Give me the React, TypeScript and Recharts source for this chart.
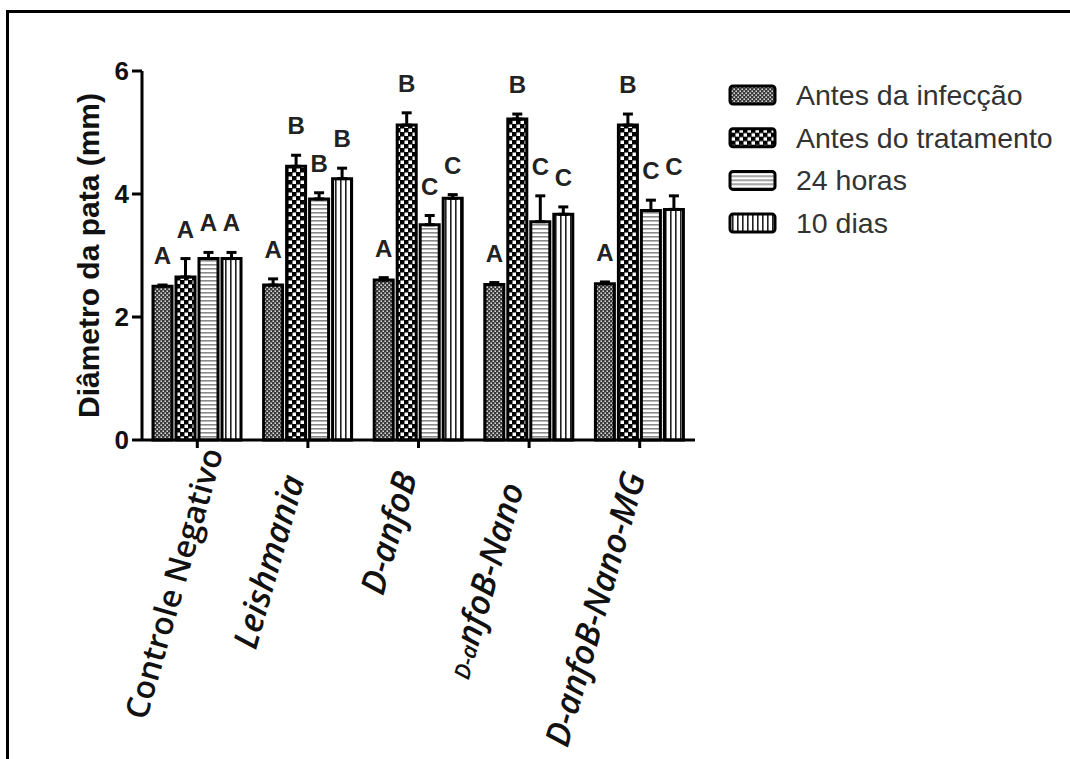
import React from 'react';
import { BarChart, Bar, XAxis, YAxis, ErrorBar, LabelList, Legend } from 'recharts';

const categories = ['Controle Negativo', 'Leishmania', 'D-anfoB', 'D-anfoB-Nano', 'D-anfoB-Nano-MG'];
const seriesNames = ['Antes da infecção', 'Antes do tratamento', '24 horas', '10 dias'];

const antesInfeccao = [2.5, 2.52, 2.6, 2.53, 2.54];
const antesInfeccaoErr = [0.02, 0.1, 0.04, 0.03, 0.03];
const antesTratamento = [2.65, 4.45, 5.12, 5.22, 5.12];
const antesTratamentoErr = [0.3, 0.18, 0.2, 0.08, 0.18];
const horas24 = [2.95, 3.92, 3.5, 3.55, 3.73];
const horas24Err = [0.1, 0.1, 0.15, 0.42, 0.17];
const dias10 = [2.95, 4.25, 3.93, 3.67, 3.75];
const dias10Err = [0.1, 0.17, 0.06, 0.12, 0.22];

const lettersInfeccao = ['A', 'A', 'A', 'A', 'A'];
const lettersTratamento = ['A', 'B', 'B', 'B', 'B'];
const letters24 = ['A', 'B', 'C', 'C', 'C'];
const letters10 = ['A', 'B', 'C', 'C', 'C'];

const yTicks = [0, 2, 4, 6];

const data = categories.map((name, i) => ({
  name,
  s0: antesInfeccao[i],
  e0: [0, antesInfeccaoErr[i]],
  s1: antesTratamento[i],
  e1: [0, antesTratamentoErr[i]],
  s2: horas24[i],
  e2: [0, horas24Err[i]],
  s3: dias10[i],
  e3: [0, dias10Err[i]],
}));

const patternIds = ['pInf', 'pTrat', 'p24', 'p10'];

const Patterns = ({ prefix }: { prefix: string }) => (
  <defs>
    <pattern id={prefix + 'pInf'} width={4} height={4} patternUnits="userSpaceOnUse">
      <rect width={4} height={4} fill="#3a3a3a" />
      <rect x={0.5} y={0.5} width={1.4} height={1.4} fill="#ffffff" />
      <rect x={2.5} y={2.5} width={1.4} height={1.4} fill="#ffffff" />
    </pattern>
    <pattern id={prefix + 'pTrat'} width={8} height={8} patternUnits="userSpaceOnUse">
      <rect width={8} height={8} fill="#000" />
      <rect x={0.5} y={0.5} width={3.5} height={3.5} fill="#fff" />
      <rect x={4.5} y={4.5} width={3.5} height={3.5} fill="#fff" />
    </pattern>
    <pattern id={prefix + 'p24'} width={4} height={4} patternUnits="userSpaceOnUse">
      <rect width={4} height={4} fill="#fff" />
      <rect x={0} y={0} width={4} height={1.6} fill="#8a8a8a" />
    </pattern>
    <pattern id={prefix + 'p10'} width={5} height={5} patternUnits="userSpaceOnUse">
      <rect width={5} height={5} fill="#fff" />
      <rect x={0} y={0} width={1.6} height={5} fill="#222" />
    </pattern>
  </defs>
);

const letterContent = (letters: string[], errs: number[]) => (props: any) => {
  const x = Number(props.x);
  const y = Number(props.y);
  const width = Number(props.width);
  const height = Number(props.height);
  const index = props.index;
  const value = Number(props.value);
  const px = value ? height / value : 0;
  const top = y - errs[index] * px;
  return (
    <text
      x={x + width / 2}
      y={top - 21}
      textAnchor="middle"
      fontFamily="'Liberation Sans', Arial, sans-serif"
      fontWeight="bold"
      fontSize={24}
      fill="#222"
    >
      {letters[index]}
    </text>
  );
};

// small layout tweaks of the rotated category labels (relative to their tick)
const tickShift = [
  { dx: 26, dy: 12 },
  { dx: -3, dy: 39 },
  { dx: -1, dy: 36 },
  { dx: -5, dy: 47 },
  { dx: 6, dy: 36 },
];

const XTick = (props: any) => {
  const { x, y, payload } = props;
  const label: string = String(payload.value);
  const idx = categories.indexOf(label);
  const italic = idx !== 0;
  const s = tickShift[idx] || { dx: 0, dy: 20 };
  const small = label === 'D-anfoB-Nano';
  return (
    <g transform={`translate(${x + s.dx},${y - 8 + s.dy}) rotate(-74)`}>
      <text
        x={0}
        y={0}
        textAnchor="end"
        fontFamily="'Open Sans', sans-serif"
        fontWeight={600}
        fontStyle={italic ? 'italic' : 'normal'}
        fontSize={italic ? 34 : 32}
        fill="#111"
      >
        {small ? (
          <>
            <tspan fontSize={22}>{label.slice(0, 3)}</tspan>
            <tspan>{label.slice(3)}</tspan>
          </>
        ) : (
          label
        )}
      </text>
    </g>
  );
};

const YLabel = (props: any) => {
  const vb = props.viewBox || {};
  const cy = Number(vb.y) + Number(vb.height) / 2;
  return (
    <text
      transform={`translate(99,${cy}) rotate(-90)`}
      textAnchor="middle"
      fontFamily="'Liberation Sans', Arial, sans-serif"
      fontWeight="bold"
      fontSize={30}
      fill="#111"
    >
      Diâmetro da pata (mm)
    </text>
  );
};

const LegendContent = () => (
  <div style={{ fontFamily: "'Liberation Sans', Arial, sans-serif" }}>
    <svg width={340} height={185} style={{ display: 'block' }}>
      <Patterns prefix="lg" />
      {seriesNames.map((n, i) => (
        <g key={n} transform={`translate(0,${10 + i * 42.7})`}>
          <rect x={3} y={4} width={45} height={18} rx={3} fill={`url(#lg${patternIds[i]})`} stroke="#000" strokeWidth={3} />
          <text x={69} y={23} fontSize={28.5} fill="#333">
            {n}
          </text>
        </g>
      ))}
    </svg>
  </div>
);

export default function App() {
  return (
    <div style={{ position: 'absolute', left: 0, top: 0, width: 1070, height: 759, background: '#fff' }}>
      <div
        style={{
          position: 'absolute',
          left: 6,
          top: 10,
          width: 1064,
          height: 749,
          borderTop: '3px solid #000',
          borderLeft: '3px solid #000',
          boxSizing: 'border-box',
        }}
      />
      <div style={{ position: 'absolute', left: 0, top: 0 }}>
        <BarChart
          width={1070}
          height={759}
          data={data}
          margin={{ top: 71, right: 375, bottom: 0, left: 82 }}
          barCategoryGap={11}
          barGap={4}
        >
          <Patterns prefix="ch" />
          <XAxis
            dataKey="name"
            interval={0}
            height={319}
            tickSize={8}
            tickMargin={0}
            axisLine={{ stroke: '#000', strokeWidth: 3 }}
            tickLine={{ stroke: '#000', strokeWidth: 3 }}
            tick={<XTick />}
          />
          <YAxis
            width={60}
            domain={[0, 6]}
            ticks={yTicks}
            tickSize={10}
            tickMargin={3}
            axisLine={{ stroke: '#000', strokeWidth: 3 }}
            tickLine={{ stroke: '#000', strokeWidth: 3 }}
            tick={{ fill: '#111', fontSize: 26, fontWeight: 'bold', fontFamily: "'Liberation Sans', Arial, sans-serif" }}
            label={<YLabel />}
          />
          <Legend
            layout="vertical"
            align="center"
            verticalAlign="middle"
            content={<LegendContent />}
            wrapperStyle={{ left: 727, top: 72, right: 'auto', bottom: 'auto', width: 340 }}
          />
          <Bar dataKey="s0" name={seriesNames[0]} fill="url(#chpInf)" stroke="#000" strokeWidth={3} isAnimationActive={false}>
            <ErrorBar dataKey="e0" width={5} strokeWidth={3} stroke="#000" direction="y" />
            <LabelList dataKey="s0" content={letterContent(lettersInfeccao, antesInfeccaoErr)} />
          </Bar>
          <Bar dataKey="s1" name={seriesNames[1]} fill="url(#chpTrat)" stroke="#000" strokeWidth={3} isAnimationActive={false}>
            <ErrorBar dataKey="e1" width={5} strokeWidth={3} stroke="#000" direction="y" />
            <LabelList dataKey="s1" content={letterContent(lettersTratamento, antesTratamentoErr)} />
          </Bar>
          <Bar dataKey="s2" name={seriesNames[2]} fill="url(#chp24)" stroke="#000" strokeWidth={3} isAnimationActive={false}>
            <ErrorBar dataKey="e2" width={5} strokeWidth={3} stroke="#000" direction="y" />
            <LabelList dataKey="s2" content={letterContent(letters24, horas24Err)} />
          </Bar>
          <Bar dataKey="s3" name={seriesNames[3]} fill="url(#chp10)" stroke="#000" strokeWidth={3} isAnimationActive={false}>
            <ErrorBar dataKey="e3" width={5} strokeWidth={3} stroke="#000" direction="y" />
            <LabelList dataKey="s3" content={letterContent(letters10, dias10Err)} />
          </Bar>
        </BarChart>
      </div>
    </div>
  );
}
